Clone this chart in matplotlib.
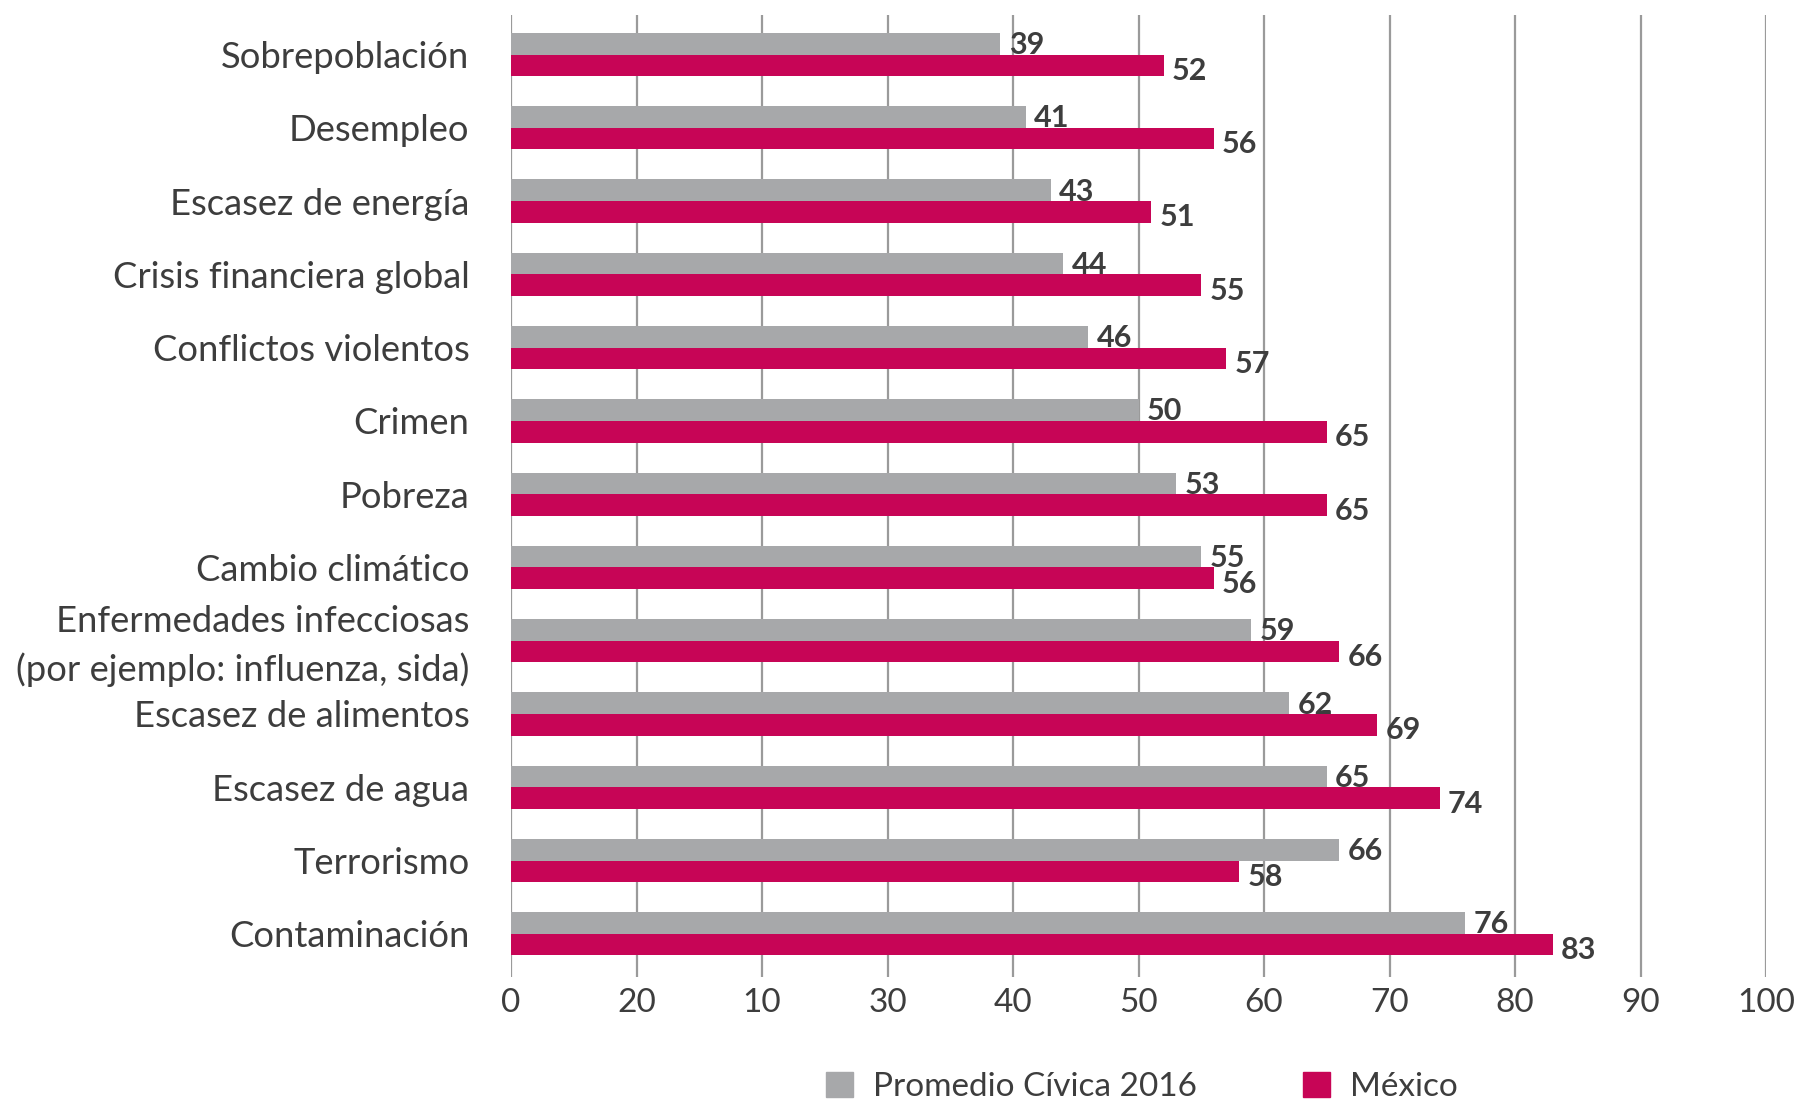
import numpy as np
import matplotlib.pyplot as plt
from matplotlib.patches import Patch
from matplotlib.transforms import ScaledTranslation

plt.rcParams['font.family'] = ['Lato', 'DejaVu Sans']

categorias = ['Sobrepoblación', 'Desempleo', 'Escasez de energía',
              'Crisis financiera global', 'Conflictos violentos', 'Crimen',
              'Pobreza', 'Cambio climático',
              'Enfermedades infecciosas\n(por ejemplo: influenza, sida)',
              'Escasez de alimentos', 'Escasez de agua', 'Terrorismo',
              'Contaminación']
promedio = [39, 41, 43, 44, 46, 50, 53, 55, 59, 62, 65, 66, 76]
mexico = [52, 56, 51, 55, 57, 65, 65, 56, 66, 69, 74, 58, 83]
ticks = [0, 10, 20, 30, 40, 50, 60, 70, 80, 90, 100]
tick_labels = ['0', '20', '10', '30', '40', '50', '60', '70', '80', '90', '100']

gris = '#a7a8aa'
rojo = '#c70556'
texto = '#3d3d3d'

fig = plt.figure(figsize=(17.98, 11), dpi=100)
ax = fig.add_axes([511/1798, 1-977/1100, (1766-511)/1798, (977-15)/1100])

y = np.arange(len(categorias))
h = 0.295
ax.barh(y - h/2, promedio, height=h, color=gris, zorder=3)
ax.barh(y + h/2, mexico, height=h, color=rojo, zorder=3)

# etiquetas de valor
for i in range(len(categorias)):
    ax.annotate(str(promedio[i]), (promedio[i], y[i] - h/2),
                xytext=(6, -1), textcoords='offset points', va='center',
                ha='left', fontsize=22, fontweight='bold', color=texto, zorder=4)
    ax.annotate(str(mexico[i]), (mexico[i], y[i] + h/2),
                xytext=(6, -4), textcoords='offset points', va='center',
                ha='left', fontsize=22, fontweight='bold', color=texto, zorder=4)

ax.set_xlim(0, 100)
ax.set_ylim(12.59, -0.54)
ax.set_xticks(ticks)
ax.set_xticklabels(tick_labels, fontsize=24, color=texto)
ax.set_yticks(y)
ax.set_yticklabels(categorias, fontsize=26.2, color=texto, linespacing=1.5)
ax.tick_params(axis='both', length=0)
ax.tick_params(axis='y', pad=30)
ax.tick_params(axis='x', pad=8)

# subir un poco la etiqueta de dos líneas
lbl = ax.get_yticklabels()[8]
lbl.set_transform(lbl.get_transform() + ScaledTranslation(0, 3.5/72, fig.dpi_scale_trans))

for s in ax.spines.values():
    s.set_visible(False)
ax.grid(axis='x', color='#9a9a9a', linewidth=1.6, zorder=0)

handles = [Patch(color=gris, label='Promedio Cívica 2016'),
           Patch(color=rojo, label='México')]
fig.legend(handles=handles, loc='center', bbox_to_anchor=(0.635, 1-1087/1100),
           ncol=2, frameon=False, fontsize=24, handlelength=0.8, handleheight=0.8,
           handletextpad=0.6, columnspacing=3.2, labelcolor=texto)

fig.savefig('out.png', dpi=100)
